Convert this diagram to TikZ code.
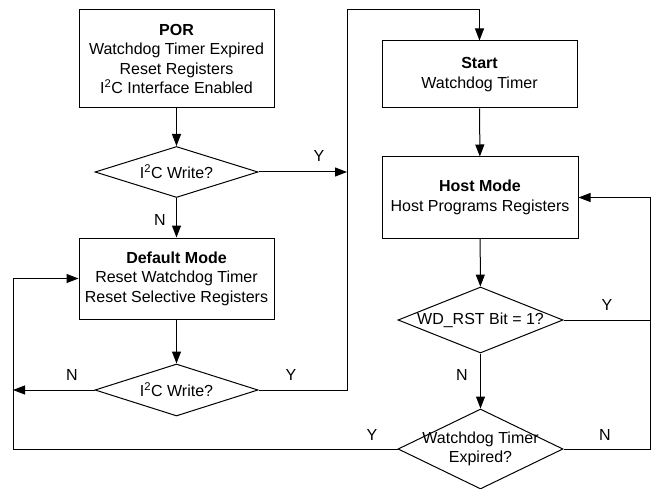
\documentclass[tikz,border=0pt]{standalone}
\usepackage{fontspec}
\setmainfont{Liberation Sans}
\usetikzlibrary{shapes.geometric,arrows.meta}
\def\darr{\draw[-{Triangle[length=12pt,width=9pt]}]}
\def\ic{I\textsuperscript{2}C}

\begin{document}
\begin{tikzpicture}[x=1pt,y=-1pt,line width=1pt,
    every node/.style={font=\fontsize{16}{19.5}\selectfont},
    modebox/.style={draw,rectangle,align=center,inner sep=0pt},
    askbox/.style={draw,diamond,align=center,inner sep=0pt},
    yn/.style={inner sep=0pt}]
  \useasboundingbox (0,0) rectangle (653,489);
  % left column
  \node[modebox,minimum width=195pt,minimum height=98pt] (por) at (176.5,59)
    {\textbf{POR}\\Watchdog Timer Expired\\Reset Registers\\\ic{} Interface Enabled};
  \node[askbox,shape aspect=3.2,minimum width=163pt,minimum height=51pt] (wr1) at (176.5,172) {\ic{} Write?};
  \node[modebox,minimum width=195pt,minimum height=81pt] (dflt) at (176.5,278.5)
    {\textbf{Default Mode}\\Reset Watchdog Timer\\Reset Selective Registers};
  \node[askbox,shape aspect=3.2,minimum width=163pt,minimum height=52pt] (wr2) at (176.5,390) {\ic{} Write?};
  % right column
  \node[modebox,minimum width=195pt,minimum height=67pt] (start) at (479.5,74.5)
    {\textbf{Start}\\Watchdog Timer};
  \node[modebox,minimum width=196pt,minimum height=81pt] (host) at (480,197.5)
    {\textbf{Host Mode}\\Host Programs Registers};
  \node[askbox,shape aspect=2.5,minimum width=165pt,minimum height=66pt] (wdrst) at (480.5,320) {WD\_RST Bit = 1?};
  \node[askbox,shape aspect=2.06,minimum width=165pt,minimum height=80pt,inner xsep=-14pt] (expd) at (480.5,449)
    {Watchdog Timer\\Expired?};
  % rails
  \coordinate (mid) at (347,10);
  \coordinate (lft) at (13,449);
  \coordinate (rgt) at (650,449);
  % connectors
  \darr (por) -- (wr1);
  \darr (wr1) -- (dflt);
  \darr (dflt) -- (wr2);
  \darr (wr1.east) -- (wr1.east -| mid);
  \darr (wr2.east) -| (mid) -| (start.north);
  \darr (wr2.west) -- (wr2.west -| lft);
  \darr (start) -- (host);
  \darr (host) -- (wdrst);
  \darr (wdrst) -- (expd);
  \draw (wdrst.east) -- (wdrst.east -| rgt);
  \darr (expd.east) -- (rgt) |- (host.east);
  \darr (expd.west) -- (lft) |- (dflt.west);
  % labels
  \node[yn] (y1) at (319,156) {Y};
  \node[yn] (n1) at (160,220) {N};
  \node[yn] (n2) at (72,375) {N};
  \node[yn] (y2) at (291,375) {Y};
  \node[yn] (y3) at (607,305) {Y};
  \node[yn] (n3) at (462,375) {N};
  \node[yn] (y4) at (372,435) {Y};
  \node[yn] (n4) at (605,435) {N};
\end{tikzpicture}
\end{document}
